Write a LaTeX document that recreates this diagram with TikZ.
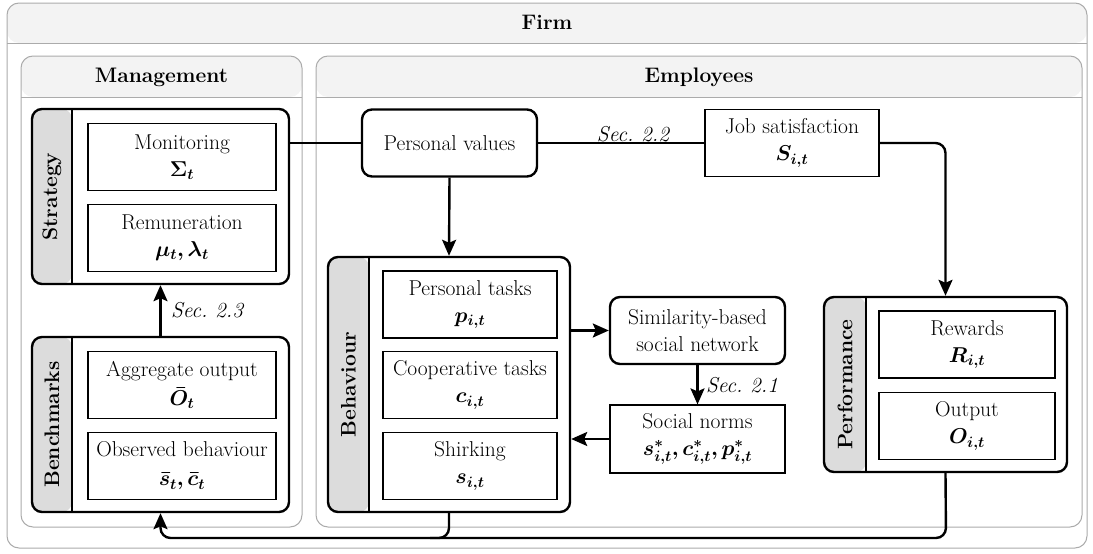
\RequirePackage{fix-cm}
\documentclass[tikz,border=0pt]{standalone}
\usepackage{amsmath,bm}
\usetikzlibrary{arrows.meta,calc}
\definecolor{cgray}{HTML}{ABABAB}
\definecolor{hdr}{HTML}{F3F3F3}
\definecolor{strip}{HTML}{DCDCDC}
\tikzset{
  every node/.style={font=\rmfamily\fontsize{21.5}{27}\selectfont},
  container/.style={draw=cgray, line width=1pt, rounded corners=12pt, inner sep=0pt,
    path picture={\fill[hdr] (path picture bounding box.north west) rectangle ([yshift=-#1]path picture bounding box.north east);
      \draw[cgray,line width=1pt] ([yshift=-#1]path picture bounding box.north west) -- ([yshift=-#1]path picture bounding box.north east);}},
  group/.style={draw, line width=2.4pt, rounded corners=10pt, fill=white, inner sep=0pt,
    path picture={\fill[strip] (path picture bounding box.north west) rectangle ([xshift=#1]path picture bounding box.south west);
      \draw[line width=2.4pt] ([xshift=#1]path picture bounding box.north west) -- ([xshift=#1]path picture bounding box.south west);}},
  inbox/.style={draw, line width=1.2pt, fill=white, inner sep=0pt, align=center, minimum width=188pt, minimum height=67pt},
  rbox/.style={draw, line width=2.4pt, rounded corners=10pt, fill=white, inner sep=0pt, align=center, minimum width=175pt, minimum height=67pt},
  title/.style={font=\rmfamily\fontsize{21}{27}\selectfont\bfseries},
  vlabel/.style={rotate=90, font=\rmfamily\fontsize{21}{27}\selectfont\bfseries},
  sec/.style={font=\rmfamily\fontsize{21.5}{27}\selectfont\itshape},
  conn/.style={line width=2.4pt, rounded corners=10pt},
  arr/.style={conn, -{Stealth[length=16pt,width=14pt,inset=3pt]}},
}
\begin{document}
\begin{tikzpicture}[x=1pt,y=-1pt]
\useasboundingbox (0,0) rectangle (1093,554);
% containers
\node[container=40pt, minimum width=1080pt, minimum height=545pt] (firm) at (547,275.5) {};
\node[title] (firmt) at (547,22) {Firm};
\node[container=41pt, minimum width=281pt, minimum height=471pt] (mgmt) at (161.5,291.5) {};
\node[title] (mgmtt) at (161.5,77) {Management};
\node[container=41pt, minimum width=766pt, minimum height=471pt] (emp) at (699,291.5) {};
\node[title] (empt) at (699,77) {Employees};
% groups
\node[group=40pt, minimum width=257pt, minimum height=175pt] (strat) at (160.5,196.5) {};
\node[vlabel] (stratl) at (52,196.5) {Strategy};
\node[inbox] (mon) at (182,157) {Monitoring\\ $\bm{\Sigma_t}$};
\node[inbox] (rem) at (182,238) {Remuneration\\ $\bm{\mu_t, \lambda_t}$};
\node[group=40pt, minimum width=257pt, minimum height=175pt] (bench) at (160.5,424.5) {};
\node[vlabel] (benchl) at (52,424.5) {Benchmarks};
\node[inbox] (agg) at (182,385) {Aggregate output\\[2pt] $\bm{\bar{O}_t}$};
\node[inbox] (obs) at (182,466) {Observed behaviour\\[2pt] $\bm{\bar{s}_t, \bar{c}_t}$};
\node[group=41pt, minimum width=242pt, minimum height=255pt] (behav) at (449,384.5) {};
\node[vlabel] (behavl) at (348.5,384.5) {Behaviour};
\node[inbox, minimum width=174pt] (pt) at (470,304.5) {Personal tasks\\ $\bm{p_{i,t}}$};
\node[inbox, minimum width=174pt] (ct) at (470,385) {Cooperative tasks\\ $\bm{c_{i,t}}$};
\node[inbox, minimum width=174pt] (sh) at (470,466) {Shirking\\ $\bm{s_{i,t}}$};
\node[group=42pt, minimum width=243pt, minimum height=175pt] (perf) at (945.5,384.5) {};
\node[vlabel] (perfl) at (845,384.5) {Performance};
\node[inbox, minimum width=176pt] (rew) at (967,344.5) {Rewards\\ $\bm{R_{i,t}}$};
\node[inbox, minimum width=176pt] (out) at (967,426) {Output\\ $\bm{O_{i,t}}$};
% standalone boxes
\node[rbox] (pv) at (449.5,143) {Personal values};
\node[inbox, minimum width=174pt] (js) at (792,143) {Job satisfaction\\ $\bm{S_{i,t}}$};
\node[rbox] (sim) at (697.5,330.5) {Similarity-based\\ social network};
\node[inbox, minimum width=175pt, minimum height=68pt] (sn) at (697.5,439) {Social norms\\ $\bm{s^*_{i,t}, c^*_{i,t}, p^*_{i,t}}$};
% connectors
\draw[conn] (pv.west -| strat.east) -- (pv.west);
\draw[conn] (pv.east) -- (js.west);
\node[sec, anchor=base, inner sep=0pt] (sec22) at (633,141) {Sec.\ 2.2};
\draw[arr] (js.east) -| (perf.north);
\draw[arr] (pv.south) -- (behav.north);
\draw[arr] (sim.west -| behav.east) -- (sim.west);
\draw[arr] (sim.south) -- node[sec, right, xshift=4pt] {Sec.\ 2.1} (sn.north);
\draw[arr] (sn.west) -- (sn.west -| behav.east);
\draw[arr] (bench.north) -- node[sec, right, xshift=6pt] {Sec.\ 2.3} (strat.south);
\coordinate (bl) at (946,538);
\coordinate (jn) at (430,538);
\draw[arr] (perf.south) -- (bl) -| (bench.south);
\draw[conn] (behav.south) |- (jn);
\end{tikzpicture}
\end{document}
